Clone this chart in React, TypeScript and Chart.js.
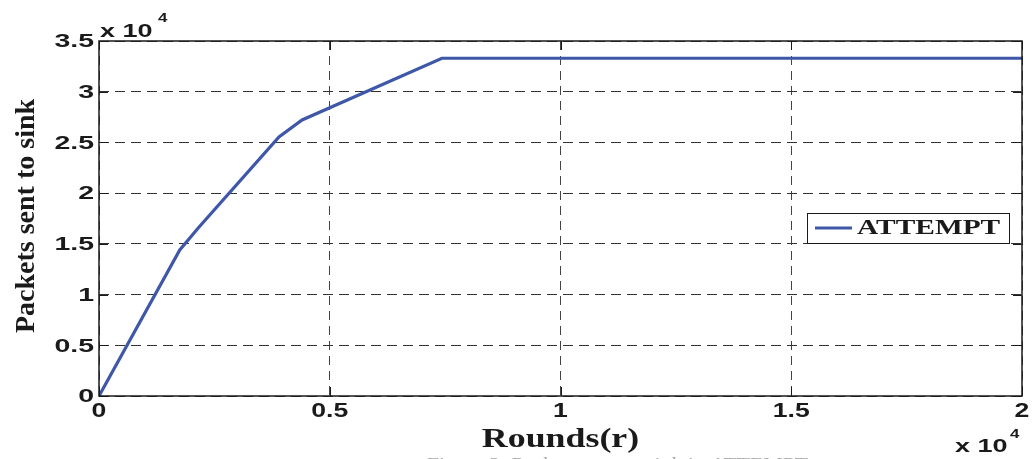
import React, { useEffect, useRef } from "react";
import { Chart, registerables } from "chart.js";

Chart.register(...registerables);

const rounds = [0, 1750, 2150, 3900, 4400, 7430, 20000];
const packets = [0, 14400, 16570, 25540, 27220, 33300, 33300];
const seriesLabel = "ATTEMPT";
const xTitle = "Rounds(r)";
const yTitle = "Packets sent to sink";
const caption = "Figure 3: Packets sent to sink in ATTEMPT";
const xMax = 20000;
const yMax = 35000;
const xStep = 5000;
const yStep = 5000;
const lineColor = "#3e57a8";

function txt(
  ctx: CanvasRenderingContext2D,
  s: string,
  x: number,
  y: number,
  font: string,
  sx: number,
  align: CanvasTextAlign,
  baseline: CanvasTextBaseline,
  color = "#1a1a1a",
  rot = 0
) {
  ctx.save();
  ctx.font = font;
  ctx.fillStyle = color;
  ctx.textAlign = align;
  ctx.textBaseline = baseline;
  ctx.translate(x, y);
  if (rot) ctx.rotate(rot);
  ctx.scale(sx, 1);
  ctx.fillText(s, 0, 0);
  ctx.restore();
}

const decor = {
  id: "decor",
  afterDraw(chart: any) {
    const ctx: CanvasRenderingContext2D = chart.ctx;
    const { left, right, top, bottom } = chart.chartArea;
    const xs = chart.scales.x;
    const ys = chart.scales.y;
    ctx.save();
    // frame
    ctx.strokeStyle = "#1a1a1a";
    ctx.lineWidth = 1.5;
    ctx.strokeRect(left, top, right - left, bottom - top);
    // inward ticks
    ctx.lineWidth = 1;
    const tl = 9;
    xs.ticks.forEach((t: any) => {
      const px = Math.round(xs.getPixelForValue(t.value)) + 0.5;
      ctx.beginPath();
      ctx.moveTo(px, bottom);
      ctx.lineTo(px, bottom - tl);
      ctx.moveTo(px, top);
      ctx.lineTo(px, top + tl);
      ctx.stroke();
    });
    ys.ticks.forEach((t: any) => {
      const py = Math.round(ys.getPixelForValue(t.value)) + 0.5;
      ctx.beginPath();
      ctx.moveTo(left, py);
      ctx.lineTo(left + tl, py);
      ctx.moveTo(right, py);
      ctx.lineTo(right - tl, py);
      ctx.stroke();
    });
    // tick labels
    ys.ticks.forEach((t: any) => {
      const py = ys.getPixelForValue(t.value);
      txt(ctx, String(t.value / 1e4), left - 5, py + 1, "bold 19px 'Liberation Sans', Arial", 1.5, "right", "middle");
    });
    xs.ticks.forEach((t: any) => {
      const px = xs.getPixelForValue(t.value);
      txt(ctx, String(t.value / 1e4), px, bottom + 15, "bold 20px 'Liberation Sans', Arial", 1.33, "center", "middle");
    });
    // multipliers
    txt(ctx, "x 10", left + 1, top - 4, "bold 18px 'Liberation Sans', Arial", 1.5, "left", "alphabetic");
    txt(ctx, "4", left + 59, top - 19, "bold 13px 'Liberation Sans', Arial", 1.3, "left", "alphabetic");
    txt(ctx, "x 10", right - 67, bottom + 56, "bold 18px 'Liberation Sans', Arial", 1.5, "left", "alphabetic");
    txt(ctx, "4", right - 12, bottom + 42, "bold 13px 'Liberation Sans', Arial", 1.3, "left", "alphabetic");
    // axis titles
    txt(ctx, xTitle, (left + right) / 2, bottom + 51, "bold 28px 'Liberation Serif', 'Times New Roman', serif", 1.28, "center", "alphabetic");
    txt(ctx, yTitle, 27, 216, "bold 28px 'Liberation Serif', 'Times New Roman', serif", 1.0, "center", "middle", "#1a1a1a", -Math.PI / 2);
    // legend
    const lx = 807, ly = 213, lw = 202, lh = 30;
    ctx.fillStyle = "#fff";
    ctx.fillRect(lx, ly, lw, lh);
    ctx.strokeStyle = "#1a1a1a";
    ctx.lineWidth = 1;
    ctx.strokeRect(lx + 0.5, ly + 0.5, lw, lh);
    ctx.strokeStyle = lineColor;
    ctx.lineWidth = 3;
    ctx.beginPath();
    ctx.moveTo(lx + 8, ly + 15);
    ctx.lineTo(lx + 45, ly + 15);
    ctx.stroke();
    txt(ctx, seriesLabel, lx + 50, ly + 16, "bold 21px 'Liberation Serif', 'Times New Roman', serif", 1.4, "left", "middle");
    // caption (clipped at bottom)
    ctx.font = "17px 'Liberation Serif', serif";
    const w = ctx.measureText(caption).width;
    txt(ctx, caption, 427, 456, "17px 'Liberation Serif', serif", 381 / w, "left", "top", "#a8a8a8");
    ctx.restore();
  },
};

export default function App() {
  const ref = useRef<HTMLCanvasElement | null>(null);
  useEffect(() => {
    if (!ref.current) return;
    const chart = new Chart(ref.current, {
      type: "line",
      data: {
        datasets: [
          {
            label: seriesLabel,
            data: rounds.map((r, i) => ({ x: r, y: packets[i] })),
            borderColor: lineColor,
            backgroundColor: lineColor,
            borderWidth: 3.2,
            pointRadius: 0,
            tension: 0,
            fill: false,
          },
        ],
      },
      options: {
        animation: false,
        responsive: false,
        devicePixelRatio: 1,
        layout: { padding: { top: 41, right: 12, left: 0, bottom: 0 } },
        plugins: { legend: { display: false }, tooltip: { enabled: false } },
        scales: {
          x: {
            type: "linear",
            min: 0,
            max: xMax,
            ticks: { stepSize: xStep, display: false },
            grid: { color: "#444", lineWidth: 1, drawTicks: false },
            border: { display: false, dash: [9, 6] },
            afterFit: (s: any) => {
              s.height = 63;
            },
          },
          y: {
            type: "linear",
            min: 0,
            max: yMax,
            ticks: { stepSize: yStep, display: false },
            grid: { color: "#333", lineWidth: 1, drawTicks: false },
            border: { display: false, dash: [10, 6] },
            afterFit: (s: any) => {
              s.width = 99;
            },
          },
        },
      },
      plugins: [decor],
    });
    return () => chart.destroy();
  }, []);
  return (
    <div style={{ position: "fixed", left: 0, top: 0, width: 1034, height: 459, background: "#fff" }}>
      <canvas ref={ref} width={1034} height={459} style={{ width: 1034, height: 459 }} />
    </div>
  );
}
